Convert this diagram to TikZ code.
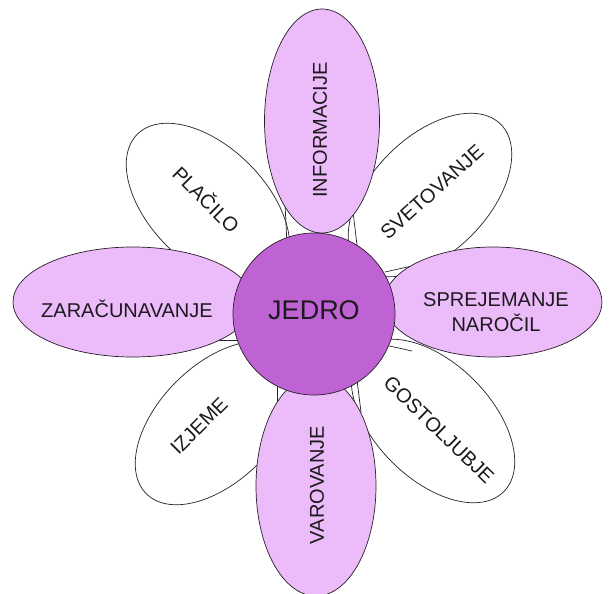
\documentclass[tikz,border=0pt]{standalone}
\usepackage{fontspec}
\setmainfont{Liberation Sans}
\usetikzlibrary{shapes.geometric}
\definecolor{petalpink}{RGB}{236,187,250}
\definecolor{corepurple}{RGB}{190,98,212}
\definecolor{edgecol}{RGB}{40,30,40}
\definecolor{txtcol}{RGB}{30,25,30}
\begin{document}
\begin{tikzpicture}[x=1pt,y=-1pt,
  petal/.style={ellipse, draw=edgecol, line width=0.7pt, inner sep=0pt},
  pinkpetal/.style={petal, fill=petalpink},
  whitepetal/.style={petal, fill=white},
  lbl/.style={font=\fontsize{20}{25}\selectfont, text=txtcol, inner sep=0pt, align=center},
  link/.style={draw=edgecol, line width=0.7pt}]
\useasboundingbox (0,0) rectangle (611,594);
\fill[white] (0,0) rectangle (611,594);

% diagonal white petals (back layer)
\node[whitepetal, minimum width=200pt, minimum height=116pt, rotate=-45] (placilo) at (208,205) {};
\node[whitepetal, minimum width=200pt, minimum height=116pt, rotate=45] (svet) at (430,195) {};
\node[whitepetal, minimum width=200pt, minimum height=116pt, rotate=45] (izjeme) at (217,423) {};
\node[whitepetal, minimum width=200pt, minimum height=116pt, rotate=-45] (gost) at (433,421) {};

% short links between core and cardinal petals
\coordinate (t1a) at (285,203); \coordinate (t1b) at (287,245);
\coordinate (t2a) at (352,203); \coordinate (t2b) at (357,245);
\coordinate (b1a) at (277,380); \coordinate (b1b) at (277,414);
\coordinate (b2a) at (357,380); \coordinate (b2b) at (361,412);
\coordinate (l1a) at (215,276); \coordinate (l1b) at (242,278);
\coordinate (l2a) at (215,340); \coordinate (l2b) at (242,340);
\coordinate (r1a) at (385,272); \coordinate (r1b) at (412,266);
\coordinate (r2a) at (385,345); \coordinate (r2b) at (412,351);
\draw[link] (t1a) -- (t1b);
\draw[link] (t2a) -- (t2b);
\draw[link] (b1a) -- (b1b);
\draw[link] (b2a) -- (b2b);
\draw[link] (l1a) -- (l1b);
\draw[link] (l2a) -- (l2b);
\draw[link] (r1a) -- (r1b);
\draw[link] (r2a) -- (r2b);

% cardinal pink petals
\node[pinkpetal, minimum width=224pt, minimum height=115pt, rotate=90] (info) at (322,121) {};
\node[pinkpetal, minimum width=220pt, minimum height=120pt, rotate=90] (varo) at (316,486) {};
\node[pinkpetal, minimum width=240pt, minimum height=110pt] (zara) at (133,302) {};
\node[pinkpetal, minimum width=218pt, minimum height=110pt] (sprej) at (493,302) {};

% core
\node[circle, fill=corepurple, draw=edgecol, line width=0.7pt, minimum size=162pt, inner sep=0pt] (core) at (314,314) {};

% labels
\node[lbl, font=\fontsize{27}{30}\selectfont] (jedro) at (314,310) {JEDRO};
\node[lbl, rotate=90] (tinfo) at (320,130) {INFORMACIJE};
\node[lbl, rotate=90] (tvaro) at (317,485) {VAROVANJE};
\node[lbl] (tzara) at (127,309) {ZARAČUNAVANJE};
\node[lbl] (tsprej) at (496,312) {SPREJEMANJE\\NAROČIL};
\node[lbl, rotate=-45] (tplac) at (207,199) {PLAČILO};
\node[lbl, rotate=42] (tsvet) at (432,192) {SVETOVANJE};
\node[lbl, rotate=45] (tizj) at (199,426) {IZJEME};
\node[lbl, rotate=-44] (tgost) at (439,430) {GOSTOLJUBJE};
\end{tikzpicture}
\end{document}
